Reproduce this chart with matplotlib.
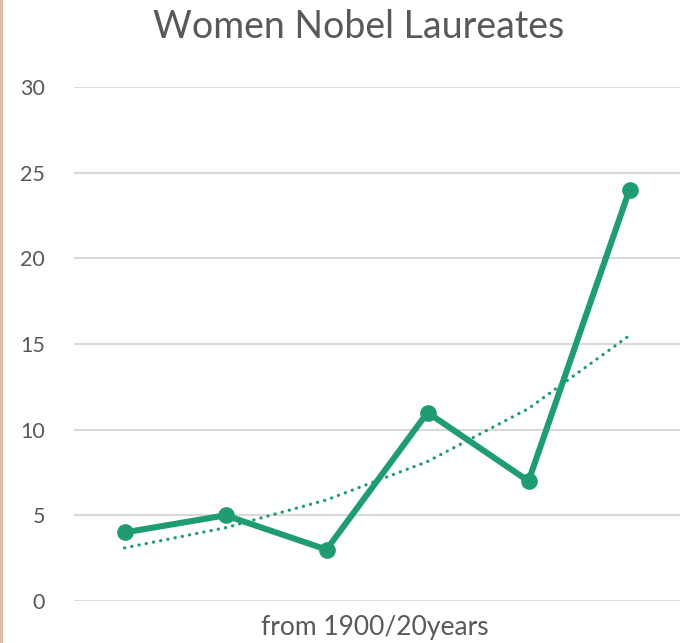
import numpy as np
import matplotlib.pyplot as plt
from matplotlib.lines import Line2D

# ==========================
# Data
# ==========================
periods = [1, 2, 3, 4, 5, 6]
laureates = [4, 5, 3, 11, 7, 24]
y_ticks = [0, 5, 10, 15, 20, 25, 30]

title = "Women Nobel Laureates"
x_label = "from 1900/20years"

green = "#1f9c74"
grey_text = "#595959"

# exponential trendline (least squares on log values)
slope, intercept = np.polyfit(periods, np.log(laureates), 1)
trend = np.exp(intercept + slope * np.array(periods))

# ==========================
# Plot
# ==========================
fig = plt.figure(figsize=(6.89, 6.43), dpi=100)
ax = fig.add_axes([74 / 689, 42 / 643, 606 / 689, 514 / 643])

ax.plot(periods, trend, color=green, linewidth=2.3,
        linestyle=(0, (0.1, 2.2)), dash_capstyle="round", zorder=2)
ax.plot(periods, laureates, color=green, linewidth=4.4,
        marker="o", markersize=11, zorder=3,
        solid_joinstyle="round")

ax.set_xlim(0.5, 6.5)
ax.set_ylim(0, 30)
ax.set_yticks(y_ticks)
ax.set_xticks([])
ax.grid(axis="y", color="#d9d9d9", linewidth=1.5)
ax.set_axisbelow(True)

for side in ["top", "right", "left", "bottom"]:
    ax.spines[side].set_visible(False)

ax.tick_params(axis="y", length=0, pad=21, labelsize=15.5,
               labelcolor=grey_text)
for lbl in ax.get_yticklabels():
    lbl.set_fontfamily("Lato")

fig.text(359 / 689, 1 - 27 / 643, title, ha="center", va="center",
         fontsize=27, color=grey_text, family="Lato")
fig.text(375 / 689, 1 - 627 / 643, x_label, ha="center", va="center",
         fontsize=19, color=grey_text, family="Lato")

# left border line
fig.add_artist(Line2D([0.002, 0.002], [0, 1], color="#e0bba9",
                      linewidth=3, transform=fig.transFigure))

fig.savefig("out.png", dpi=100)
